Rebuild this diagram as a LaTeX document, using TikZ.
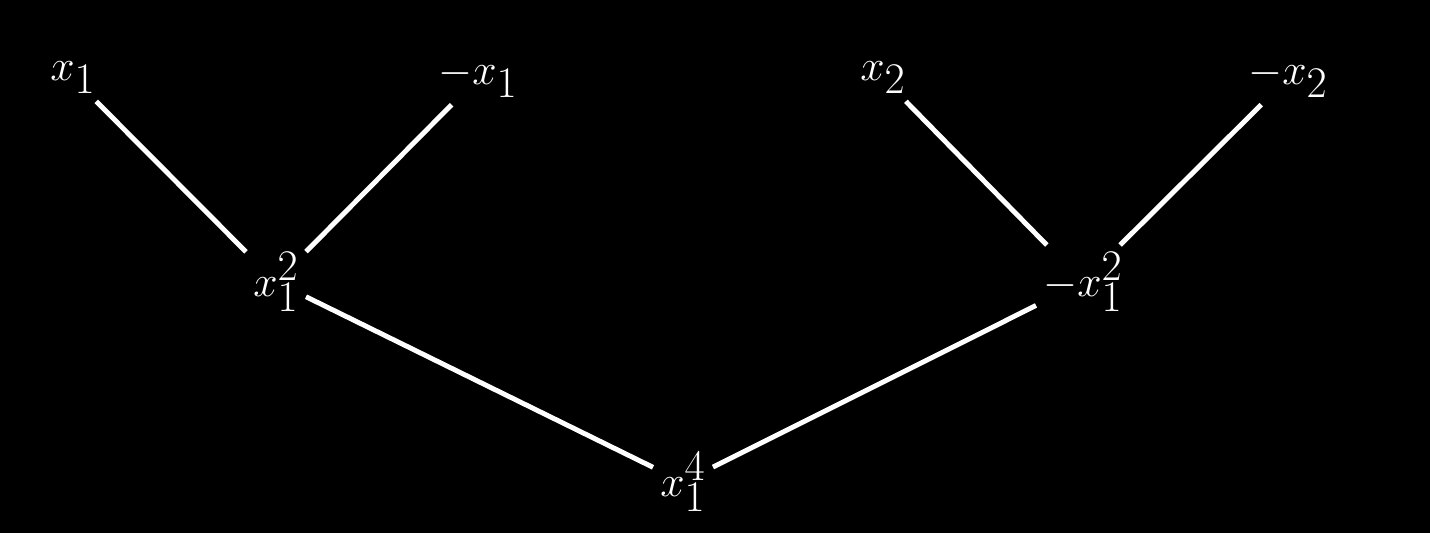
\documentclass[tikz,border=0pt]{standalone}
\begin{document}
\begin{tikzpicture}[x=0.02cm,y=-0.02cm,
  lbl/.style={text=white,font=\fontsize{42}{48}\selectfont,inner sep=4pt},
  edge/.style={draw=white,line width=2.8pt}]
\fill[black] (0,0) rectangle (1430,533);
\useasboundingbox (0,0) rectangle (1430,533);
\node[lbl] (a) at (73,78) {$x_1$};
\node[lbl] (b) at (478,78) {$-x_1$};
\node[lbl] (c) at (883,78) {$x_2$};
\node[lbl] (d) at (1288,78) {$-x_2$};
\node[lbl] (e) at (276,282) {$x_1^2$};
\node[lbl] (f) at (1083,282) {$-x_1^2$};
\node[lbl] (g) at (683,482) {$x_1^4$};
\draw[edge] (a) -- (e);
\draw[edge] (b) -- (e);
\draw[edge] (c) -- (f);
\draw[edge] (d) -- (f);
\draw[edge] (e) -- (g);
\draw[edge] (f) -- (g);
\end{tikzpicture}
\end{document}
